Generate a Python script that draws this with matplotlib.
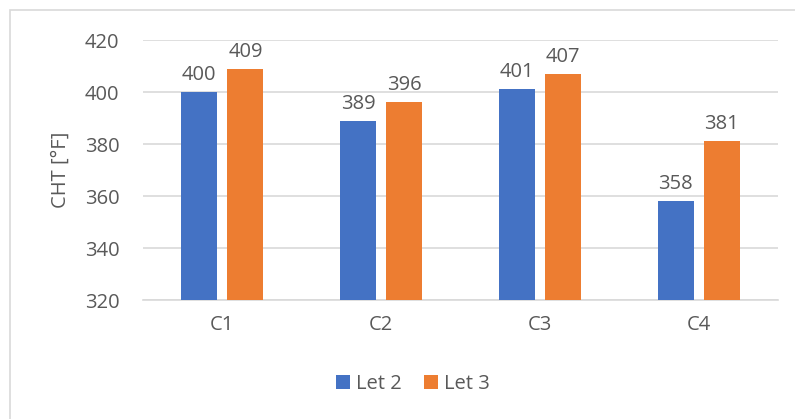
import numpy as np
import matplotlib

matplotlib.use('Agg')

import matplotlib.pyplot as plt
from matplotlib.patches import Rectangle

categories = ['C1', 'C2', 'C3', 'C4']
let2 = [400, 389, 401, 358]
let3 = [409, 396, 407, 381]
series_names = ['Let 2', 'Let 3']

plt.rcParams['font.family'] = ['Open Sans', 'DejaVu Sans']
text_color = '#595959'
fs = 14.5

fig = plt.figure(figsize=(7.95, 4.19), dpi=100)
ax = fig.add_axes([143 / 795, 1 - 300 / 419, 635 / 795, 260 / 419])

# chart border (only left and top are visible in the crop)
fig.patches.append(Rectangle((9.5 / 795, -0.5), 2.0, (1 - 10.5 / 419) + 0.5,
                             transform=fig.transFigure, fill=False,
                             edgecolor='#d9d9d9', linewidth=1.2))

x = np.arange(len(categories))
w = 0.227
off = w / 2 + 0.0315
b1 = ax.bar(x - off, let2, w, color='#4472c4', label=series_names[0], zorder=3)
b2 = ax.bar(x + off, let3, w, color='#ed7d31', label=series_names[1], zorder=3)

for bars in (b1, b2):
    for rect in bars:
        h = rect.get_height()
        ax.annotate(f'{h:.0f}', (rect.get_x() + rect.get_width() / 2, h),
                    xytext=(0, 5), textcoords='offset points',
                    ha='center', va='bottom', fontsize=fs, color=text_color)

ax.set_ylim(320, 420)
ax.set_xlim(-0.5, 3.5)
ax.set_yticks(np.arange(320, 421, 20))
ax.set_xticks(x)
ax.set_xticklabels(categories)
ax.grid(axis='y', color='#d9d9d9', linewidth=1.2, zorder=0)
for s in ['top', 'right', 'left']:
    ax.spines[s].set_visible(False)
ax.spines['bottom'].set_color('#d9d9d9')
ax.spines['bottom'].set_linewidth(1.2)
ax.tick_params(axis='both', length=0, labelsize=fs, colors=text_color)
ax.tick_params(axis='y', pad=17)
ax.tick_params(axis='x', pad=11)

fig.text(61 / 795, 1 - 170 / 419, 'CHT [°F]', rotation=90, ha='center', va='center',
         fontsize=fs, color=text_color)

fig.legend(handles=[b1, b2], loc='center', bbox_to_anchor=(413 / 795, 1 - 384 / 419),
           ncol=2, frameon=False, fontsize=fs, labelcolor=text_color,
           handlelength=0.7, handleheight=0.7, handletextpad=0.3, columnspacing=1.1)

plt.savefig('out.png', format='png', dpi=100)
plt.close(fig)
